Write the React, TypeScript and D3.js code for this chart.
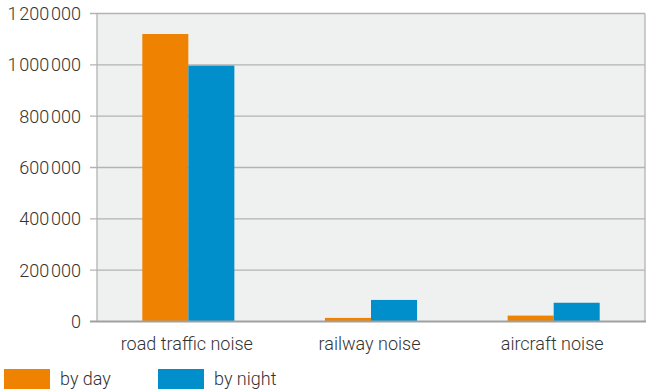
import React from "react";
import * as d3 from "d3";

const categories = ["road traffic noise", "railway noise", "aircraft noise"];
const seriesNames = ["by day", "by night"];
const byDay = [1120000, 14000, 23000];
const byNight = [997000, 84000, 73000];
const yTicks = [0, 200000, 400000, 600000, 800000, 1000000, 1200000];
const colors = ["#ef8200", "#008fca"];

const W = 646;
const H = 391;
const margin = { left: 97, right: 1, top: 13.5, bottom: 69.5 };

const fmt = (v: number) => {
  const s = String(v);
  return s.replace(/\B(?=(\d{3})+(?!\d))/g, "\u200A");
};

export default function App() {
  const x0 = d3
    .scaleBand<string>()
    .domain(categories)
    .range([margin.left, W - margin.right])
    .paddingInner(0)
    .paddingOuter(0);
  const groupW = x0.bandwidth() * 0.504;
  const x1 = d3.scaleBand<string>().domain(seriesNames).range([0, groupW]).padding(0);
  const y = d3.scaleLinear().domain([0, 1200000]).range([H - margin.bottom, margin.top]);
  const data = [byDay, byNight];
  const font = "Roboto, 'Noto Sans', sans-serif";
  const plotL = margin.left;
  const plotR = W - margin.right;
  const textColor = "#333333";
  return (
    <svg
      width={W}
      height={H}
      style={{ position: "absolute", left: 0, top: 0, display: "block" }}
      fontFamily={font}
    >
      <rect
        x={plotL}
        y={y(1200000)}
        width={plotR - plotL}
        height={y(0) - y(1200000)}
        fill="#eff0f0"
      />
      {yTicks.map((t) => (
        <g key={t}>
          {t > 0 && (
            <line x1={plotL - 7} x2={plotR} y1={y(t)} y2={y(t)} stroke="#b3b3b3" strokeWidth={1.3} />
          )}
          <text
            x={81}
            y={y(t)}
            dy="0.36em"
            textAnchor="end"
            fontSize={18}
            fontWeight={300}
            fill={textColor}
          >
            {fmt(t)}
          </text>
        </g>
      ))}
      <line x1={plotL} x2={plotL} y1={y(1200000)} y2={y(0)} stroke="#b3b3b3" strokeWidth={1.3} />
      <line x1={plotR} x2={plotR} y1={y(1200000)} y2={y(0)} stroke="#b3b3b3" strokeWidth={1.3} />
      {categories.map((c, i) => {
        const gx = (x0(c) as number) + (x0.bandwidth() - groupW) / 2;
        return (
          <g key={c}>
            {seriesNames.map((s, j) => (
              <rect
                key={s}
                x={gx + (x1(s) as number)}
                y={y(data[j][i])}
                width={x1.bandwidth()}
                height={y(0) - y(data[j][i])}
                fill={colors[j]}
              />
            ))}
            <text
              x={(x0(c) as number) + x0.bandwidth() / 2 - 1.5}
              y={350}
              textAnchor="middle"
              fontSize={18}
              fontWeight={300}
              fill={textColor}
            >
              {c}
            </text>
          </g>
        );
      })}
      <line x1={plotL - 7} x2={plotR + 1} y1={y(0)} y2={y(0)} stroke="#a0a0a0" strokeWidth={2} />
      {seriesNames.map((s, j) => (
        <g key={s} transform={`translate(${4 + j * 154},369)`}>
          <rect x={0} y={0} width={46} height={20} fill={colors[j]} />
          <text x={56} y={16} fontSize={18} fontWeight={300} fill={textColor}>
            {s}
          </text>
        </g>
      ))}
    </svg>
  );
}
